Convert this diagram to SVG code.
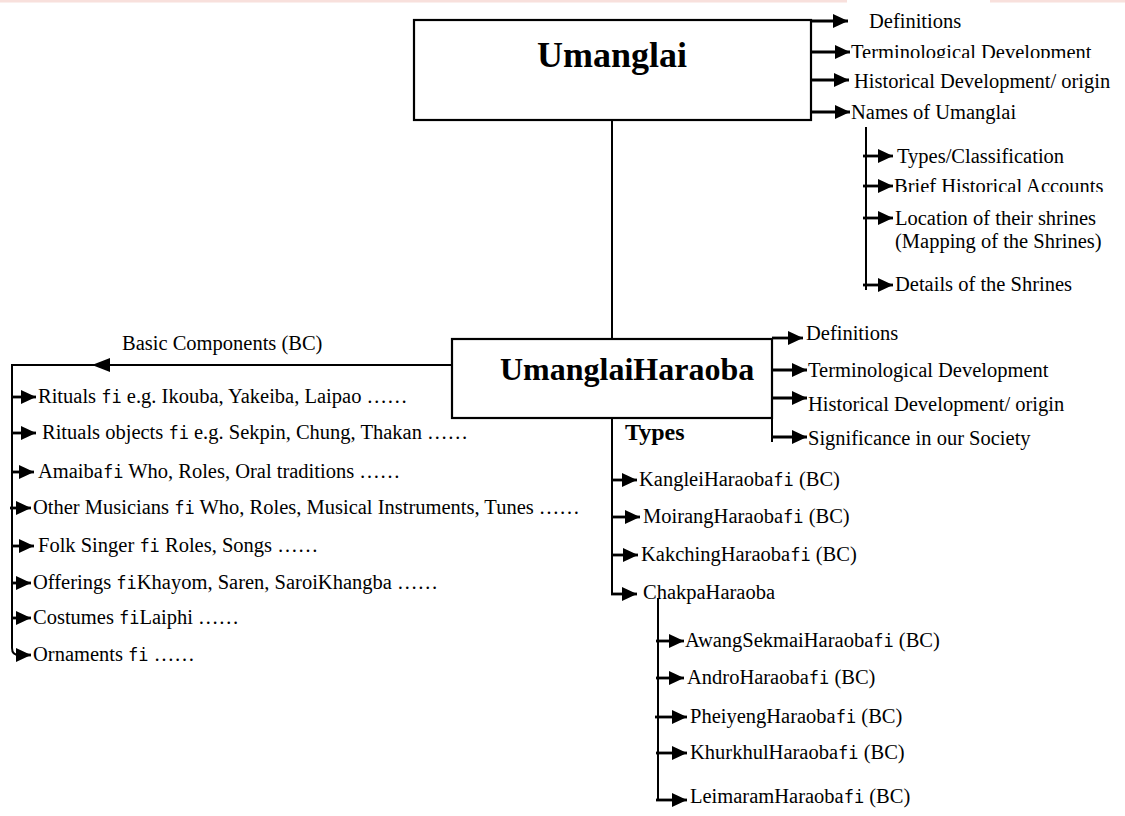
<svg xmlns="http://www.w3.org/2000/svg" width="1125" height="816" viewBox="0 0 1125 816">
<style>
  .t { font-family: "Liberation Serif", "Times New Roman", serif; font-size: 20.5px; fill: #000; }
  .b { font-family: "Liberation Serif", "Times New Roman", serif; font-weight: bold; fill: #000; }
  .fi { font-family: "DejaVu Sans Mono", monospace; font-size: 17px; }
  .box { fill: #fff; stroke: #000; stroke-width: 2.2; }
  .ln { fill: none; stroke: #000; stroke-width: 2; }
  .stub { fill: none; stroke: #000; stroke-width: 2.8; marker-end: url(#ah); }
</style>
<defs>
  <marker id="ah" markerUnits="userSpaceOnUse" markerWidth="16" markerHeight="14" refX="15" refY="7" orient="auto">
    <path d="M0,0 L15,7 L0,14 Z" fill="#000"/>
  </marker>
  <clipPath id="clipTerm"><rect x="840" y="40" width="285" height="18"/></clipPath>
  <clipPath id="clipBrief"><rect x="885" y="172" width="240" height="20"/></clipPath>
</defs>
<rect width="1125" height="816" fill="#fff"/>
<rect x="0" y="0" width="847" height="2.5" fill="#f8e0dc"/>
<rect x="990" y="0" width="135" height="2.5" fill="#f8e0dc"/>

<g id="connectors">
  <path class="ln" d="M612,120 V339"/>
  <path class="stub" d="M811,21 H848"/>
  <path class="stub" d="M811,52 H850"/>
  <path class="stub" d="M811,80 H849"/>
  <path class="stub" d="M811,112 H850"/>
  <path class="ln" d="M866,127 V290"/>
  <path class="stub" d="M863,156 H893"/>
  <path class="stub" d="M863,186 H893"/>
  <path class="stub" d="M863,218 H893"/>
  <path class="stub" d="M863,285 H893"/>
  <path class="ln" d="M772,339 V442"/>
  <path class="stub" d="M772,338 H803"/>
  <path class="stub" d="M772,370 H807"/>
  <path class="stub" d="M772,398 H807"/>
  <path class="stub" d="M772,437 H807"/>
  <path class="ln" d="M452,365 H12 V648 Q12,655 19,655"/>
  <path d="M92,365 L110,358 L110,372 Z" fill="#000"/>
  <path class="stub" d="M12,397 H36"/>
  <path class="stub" d="M12,433 H36"/>
  <path class="stub" d="M12,472 H34"/>
  <path class="stub" d="M10,508 H31"/>
  <path class="stub" d="M12,546 H34"/>
  <path class="stub" d="M12,583 H31"/>
  <path class="stub" d="M12,618 H31"/>
  <path class="stub" d="M18,655 H31"/>
  <path class="ln" d="M612,418 V594"/>
  <path class="stub" d="M612,480 H637"/>
  <path class="stub" d="M612,517 H640"/>
  <path class="stub" d="M612,555 H638"/>
  <path class="stub" d="M611,594 H637"/>
  <path class="ln" d="M658,598 V800"/>
  <path class="stub" d="M656,641 H684"/>
  <path class="stub" d="M656,678 H684"/>
  <path class="stub" d="M655,717 H687"/>
  <path class="stub" d="M656,753 H687"/>
  <path class="stub" d="M656,800 H687"/>
</g>

<g id="umanglai">
  <rect class="box" x="414" y="20" width="397" height="100"/>
  <text class="b" x="537" y="67" font-size="36">Umanglai</text>
</g>
<g id="u-definitions"><text class="t" x="869" y="28">Definitions</text></g>
<g id="u-terminological"><text class="t" x="851" y="59" clip-path="url(#clipTerm)">Terminological Development</text></g>
<g id="u-historical"><text class="t" x="854" y="88">Historical Development/ origin</text></g>
<g id="u-names"><text class="t" x="851" y="119">Names of Umanglai</text></g>
<g id="n-types"><text class="t" x="897" y="163">Types/Classification</text></g>
<g id="n-brief"><text class="t" x="894" y="193" clip-path="url(#clipBrief)">Brief Historical Accounts</text></g>
<g id="n-location"><text class="t" x="895" y="225">Location of their shrines</text><text class="t" x="895" y="248">(Mapping of the Shrines)</text></g>
<g id="n-details"><text class="t" x="895" y="291">Details of the Shrines</text></g>

<g id="umanglai-haraoba">
  <rect class="box" x="452" y="339" width="320" height="79"/>
  <text class="b" x="500" y="380" font-size="32">UmanglaiHaraoba</text>
</g>
<g id="h-definitions"><text class="t" x="806" y="340">Definitions</text></g>
<g id="h-terminological"><text class="t" x="808" y="377">Terminological Development</text></g>
<g id="h-historical"><text class="t" x="808" y="411">Historical Development/ origin</text></g>
<g id="h-significance"><text class="t" x="808" y="445">Significance in our Society</text></g>

<g id="basic-components"><text class="t" x="122" y="350">Basic Components (BC)</text></g>
<g id="bc-rituals"><text class="t" x="38" y="403">Rituals <tspan class="fi">fi</tspan> e.g. Ikouba, Yakeiba, Laipao ……</text></g>
<g id="bc-objects"><text class="t" x="42" y="439">Rituals objects <tspan class="fi">fi</tspan> e.g. Sekpin, Chung, Thakan ……</text></g>
<g id="bc-amaiba"><text class="t" x="38" y="478">Amaiba<tspan class="fi">fi</tspan> Who, Roles, Oral traditions ……</text></g>
<g id="bc-musicians"><text class="t" x="33" y="514">Other Musicians <tspan class="fi">fi</tspan> Who, Roles, Musical Instruments, Tunes ……</text></g>
<g id="bc-folk"><text class="t" x="38" y="552">Folk Singer <tspan class="fi">fi</tspan> Roles, Songs ……</text></g>
<g id="bc-offerings"><text class="t" x="33" y="589">Offerings <tspan class="fi">fi</tspan>Khayom, Saren, SaroiKhangba ……</text></g>
<g id="bc-costumes"><text class="t" x="33" y="624">Costumes <tspan class="fi">fi</tspan>Laiphi ……</text></g>
<g id="bc-ornaments"><text class="t" x="33" y="661">Ornaments <tspan class="fi">fi</tspan> ……</text></g>

<g id="types-label"><text class="b" x="625" y="440" font-size="24">Types</text></g>
<g id="t-kanglei"><text class="t" x="639" y="486">KangleiHaraoba<tspan class="fi">fi</tspan> (BC)</text></g>
<g id="t-moirang"><text class="t" x="643" y="523">MoirangHaraoba<tspan class="fi">fi</tspan> (BC)</text></g>
<g id="t-kakching"><text class="t" x="641" y="561">KakchingHaraoba<tspan class="fi">fi</tspan> (BC)</text></g>
<g id="t-chakpa"><text class="t" x="643" y="599">ChakpaHaraoba</text></g>
<g id="c-awang"><text class="t" x="685" y="647">AwangSekmaiHaraoba<tspan class="fi">fi</tspan> (BC)</text></g>
<g id="c-andro"><text class="t" x="687" y="684">AndroHaraoba<tspan class="fi">fi</tspan> (BC)</text></g>
<g id="c-pheiyeng"><text class="t" x="690" y="723">PheiyengHaraoba<tspan class="fi">fi</tspan> (BC)</text></g>
<g id="c-khurkhul"><text class="t" x="690" y="759">KhurkhulHaraoba<tspan class="fi">fi</tspan> (BC)</text></g>
<g id="c-leimaram"><text class="t" x="690" y="803">LeimaramHaraoba<tspan class="fi">fi</tspan> (BC)</text></g>
</svg>
